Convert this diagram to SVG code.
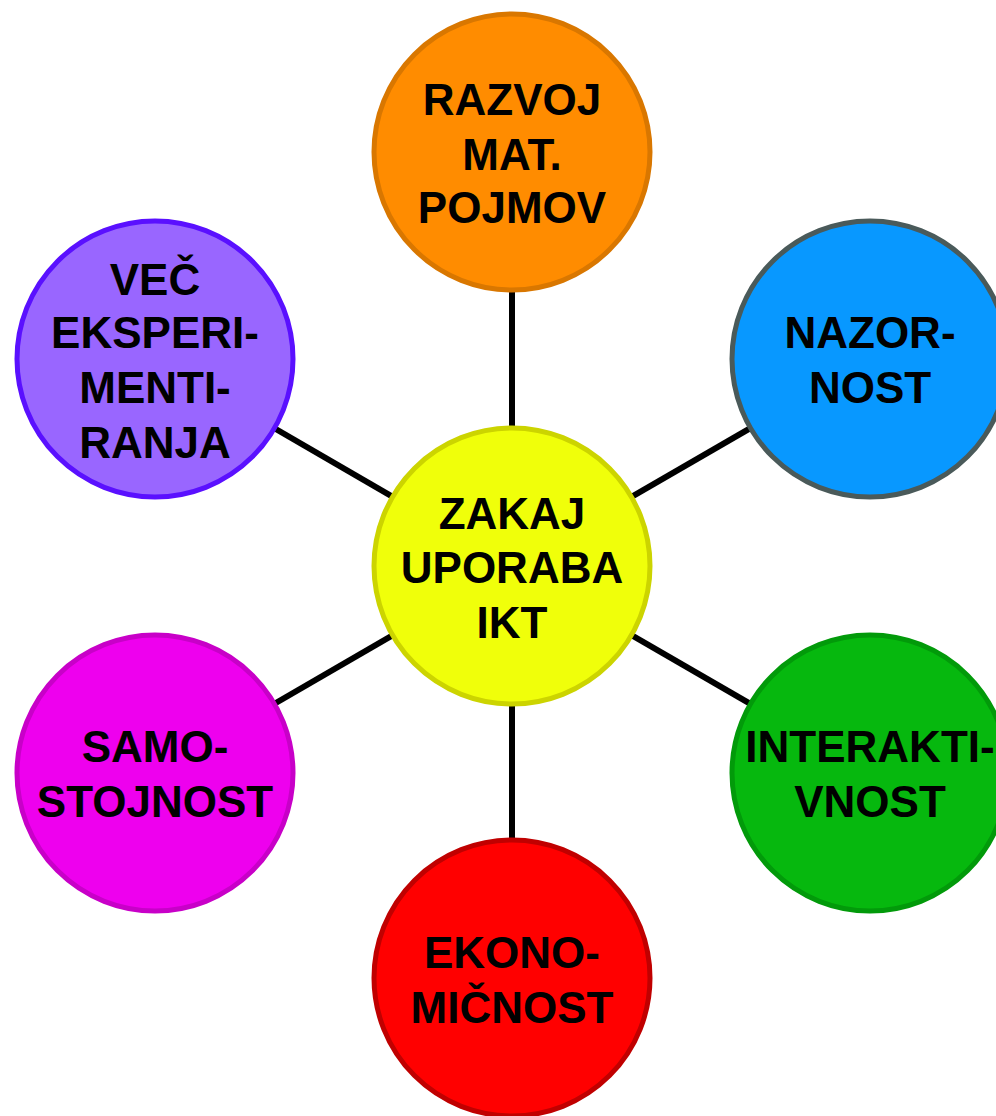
<svg xmlns="http://www.w3.org/2000/svg" width="996" height="1116" viewBox="0 0 996 1116">
<style>
.c{stroke-width:5}
.t{font-family:"Liberation Sans",Arial,sans-serif;font-weight:bold;font-size:44px;fill:#000;text-anchor:middle}
.e{stroke:#000;stroke-width:6}
</style>
<rect width="996" height="1116" fill="#fff"/>
<g id="connectors">
<line class="e" x1="512" y1="566" x2="512" y2="152"/>
<line class="e" x1="512" y1="566" x2="512" y2="978"/>
<line class="e" x1="512" y1="566" x2="870" y2="359"/>
<line class="e" x1="512" y1="566" x2="870" y2="773"/>
<line class="e" x1="512" y1="566" x2="155" y2="359"/>
<line class="e" x1="512" y1="566" x2="155" y2="773"/>
</g>
<g id="center">
<circle class="c" cx="512" cy="566" r="138" fill="#F0FF0A" stroke="#CCD400"/>
<text class="t" x="512" y="529">ZAKAJ</text>
<text class="t" x="512" y="583">UPORABA</text>
<text class="t" x="512" y="638">IKT</text>
</g>
<g id="razvoj">
<circle class="c" cx="512" cy="152" r="138" fill="#FF8C00" stroke="#D97700"/>
<text class="t" x="512" y="115">RAZVOJ</text>
<text class="t" x="512" y="170">MAT.</text>
<text class="t" x="512" y="223">POJMOV</text>
</g>
<g id="nazornost">
<circle class="c" cx="870" cy="359" r="138" fill="#0898FF" stroke="#4A5A5A"/>
<text class="t" x="870" y="348">NAZOR-</text>
<text class="t" x="870" y="403">NOST</text>
</g>
<g id="interaktivnost">
<circle class="c" cx="870" cy="773" r="138" fill="#06B80E" stroke="#029A0A"/>
<text class="t" x="870" y="762">INTERAKTI-</text>
<text class="t" x="870" y="817">VNOST</text>
</g>
<g id="ekonomicnost">
<circle class="c" cx="512" cy="978" r="138" fill="#FF0000" stroke="#C00000"/>
<text class="t" x="512" y="968">EKONO-</text>
<text class="t" x="512" y="1023">MIČNOST</text>
</g>
<g id="samostojnost">
<circle class="c" cx="155" cy="773" r="138" fill="#EE00EE" stroke="#C800C8"/>
<text class="t" x="155" y="762">SAMO-</text>
<text class="t" x="155" y="817">STOJNOST</text>
</g>
<g id="eksperimentiranje">
<circle class="c" cx="155" cy="359" r="138" fill="#9966FF" stroke="#5A10FF"/>
<text class="t" x="155" y="295">VEČ</text>
<text class="t" x="155" y="348">EKSPERI-</text>
<text class="t" x="155" y="403">MENTI-</text>
<text class="t" x="155" y="458">RANJA</text>
</g>
</svg>
